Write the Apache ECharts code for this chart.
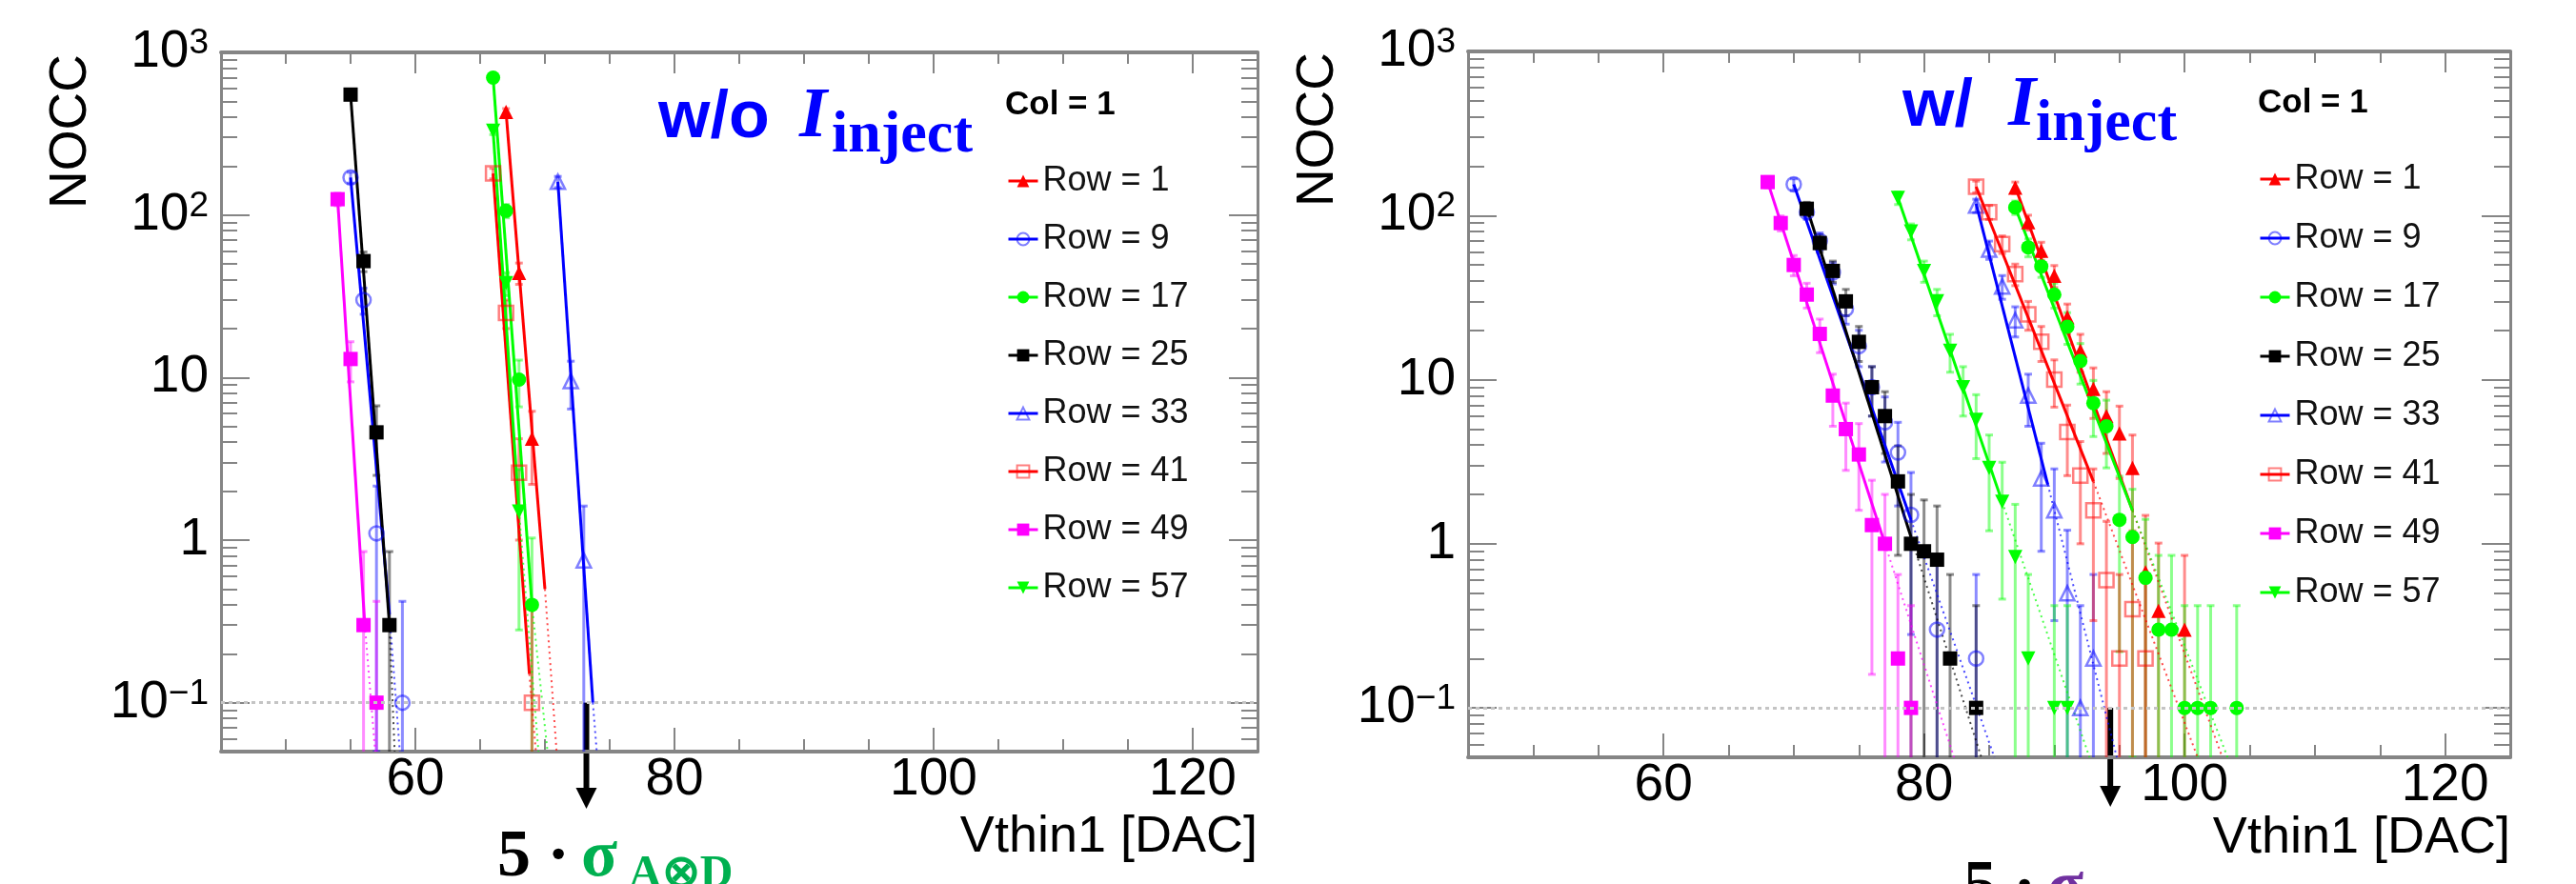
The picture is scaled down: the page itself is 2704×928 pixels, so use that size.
<!DOCTYPE html>
<html><head><meta charset="utf-8">
<script src="https://cdn.jsdelivr.net/npm/echarts@6/dist/echarts.min.js"></script>
<style>html,body{margin:0;padding:0;background:#fff;} #c{width:2704px;height:928px;}</style>
</head><body><div id="c"></div>
<script>
// ---------------- data ----------------
const rowNames = ['Row = 1','Row = 9','Row = 17','Row = 25','Row = 33','Row = 41','Row = 49','Row = 57'];
const xTickLabels = [60, 80, 100, 120];
const yTickLabels = [0.1, 1, 10, 100, 1000];
const yMinorTicks = [0.06,0.07,0.08,0.09,0.2,0.3,0.4,0.5,0.6,0.7,0.8,0.9,2,3,4,5,6,7,8,9,20,30,40,50,60,70,80,90,200,300,400,500,600,700,800,900];
const threshold = 0.1;
const arrowX = [73.2, 94.3];

// Left panel (w/o I_inject): [Vthin1, NOCC, error]
const L_row1  = [[67,430,21],[68,44,6.6],[69,4.2,2.0]];
const L_row9  = [[55,170,13],[56,30,5.5],[57,1.1,1.05],[59,0.1,0.32]];
const L_row17 = [[66,700,26],[67,106,10],[68,9.7,3.1],[69,0.4,0.63]];
const L_row25 = [[55,550,23],[56,52,7.2],[57,4.6,2.1],[58,0.3,0.55]];
const L_row33 = [[71,160,12.6],[72,9.5,3.1],[73,0.75,0.87]];
const L_row41 = [[66,180,13.4],[67,25,5],[68,2.6,1.6],[69,0.1,0.32]];
const L_row49 = [[54,125,11],[55,13,3.6],[56,0.3,0.55],[57,0.1,0.32]];
const L_row57 = [[66,330,18],[67,38,6.2],[68,1.5,1.22]];
// Left panel fits: [start], [end of solid], [end of dotted]
const L_fit1  = [[67,430],[70,0.5],[70.9,0.05]];
const L_fit9  = [[55,170],[58,0.35],[58.8,0.05]];
const L_fit17 = [[66,700],[69,0.4],[70.2,0.05]];
const L_fit25 = [[55,550],[58,0.3],[58.4,0.05]];
const L_fit33 = [[71,160],[73.7,0.1],[74,0.05]];
const L_fit41 = [[66,180],[68.8,0.15],[69.3,0.05]];
const L_fit49 = [[54,125],[56.1,0.3],[56.9,0.05]];
const L_fit57 = [[66,330],[68,1.5],[69.5,0.05]];

// Right panel (w/ I_inject)
const R_row1  = [[87,148,12],[88,91,9.5],[89,61,7.8],[90,43,6.6],[91,24,4.9],[92,15,3.9],[93,8.8,3],[94,6,2.45],[95,4.7,2.2],[96,2.9,1.7],[97,0.67,0.82],[98,0.39,0.62],[100,0.3,0.55]];
const R_row9  = [[70,155,12.4],[71,105,10.2],[72,70,8.4],[73,45,6.7],[74,27,5.2],[75,16,4],[76,9,3],[77,5.5,2.35],[78,3.6,1.9],[79,1.5,1.22],[81,0.3,0.55],[84,0.2,0.45]];
const R_row17 = [[87,112,10.6],[88,64,8],[89,49,7],[90,33,5.7],[91,21,4.6],[92,13,3.6],[93,7.2,2.7],[94,5.2,2.3],[95,1.4,1.18],[96,1.1,1.05],[97,0.62,0.79],[98,0.3,0.55],[99,0.3,0.55],[100,0.1,0.32],[101,0.1,0.32],[102,0.1,0.32],[104,0.1,0.32]];
const R_row25 = [[71,110,10.5],[72,68,8.2],[73,46,6.8],[74,30,5.5],[75,17,4.1],[76,9,3],[77,6,2.45],[78,2.4,1.55],[79,1,1],[80,0.9,0.95],[81,0.8,0.9],[82,0.2,0.45],[84,0.1,0.32]];
const R_row33 = [[84,115,10.7],[85,62,7.9],[86,37,6.1],[87,23,4.8],[88,8,2.8],[89,2.5,1.6],[90,1.6,1.26],[91,0.5,0.71],[92,0.1,0.32],[93,0.2,0.45]];
const R_row41 = [[84,150,12.2],[85,105,10.2],[86,67,8.2],[87,44,6.6],[88,25,5],[89,17,4.1],[90,10,3.2],[91,4.8,2.2],[92,2.6,1.6],[93,1.6,1.26],[94,0.6,0.77],[95,0.2,0.45],[96,0.4,0.63],[97,0.2,0.45]];
const R_row49 = [[68,160,12.6],[69,90,9.5],[70,50,7.1],[71,33,5.7],[72,19,4.4],[73,8,2.8],[74,5,2.2],[75,3.5,1.9],[76,1.3,1.14],[77,1,1],[78,0.2,0.45],[79,0.1,0.32]];
const R_row57 = [[78,128,11.3],[79,80,8.9],[80,46,6.8],[81,30,5.5],[82,15,3.9],[83,9,3],[84,5.7,2.4],[85,2.9,1.7],[86,1.8,1.34],[87,0.83,0.91],[88,0.2,0.45],[90,0.1,0.32],[91,0.1,0.32]];
const R_fit1  = [[87,150],[96,1.6],[102.9,0.05]];
const R_fit9  = [[70,155],[79,1.4],[85.4,0.05]];
const R_fit17 = [[87,112],[96,1.6],[103.3,0.05]];
const R_fit25 = [[71,112],[79,1.1],[84.4,0.05]];
const R_fit33 = [[84,118],[89.5,2.3],[94.8,0.05]];
const R_fit41 = [[84,150],[93,2.4],[101,0.05]];
const R_fit49 = [[68,160],[77,1.0],[82.3,0.05]];
const R_fit57 = [[78,128],[86,1.8],[92.7,0.05]];

// ---------------- styles ----------------
const X_MIN = 45, X_MAX = 125, Y_MIN = 0.05, Y_MAX = 1000;
const SANS = 'Liberation Sans', SERIF = 'Liberation Serif';
const AXC = '#858585';
const rowStyle = [
  {c:[255,0,0],   sym:'triangle', fill:true},
  {c:[0,0,255],   sym:'circle',   fill:false},
  {c:[0,255,0],   sym:'circle',   fill:true},
  {c:[0,0,0],     sym:'rect',     fill:true},
  {c:[0,0,255],   sym:'triangle', fill:false},
  {c:[255,0,0],   sym:'rect',     fill:false},
  {c:[255,0,255], sym:'rect',     fill:true},
  {c:[0,255,0],   sym:'triangle', fill:true, rot:180}
];
const rgba = (c, a) => 'rgba(' + c[0] + ',' + c[1] + ',' + c[2] + ',' + a + ')';

const panels = [
  {grid:{left:232, top:55, width:1088, height:734},
   rows:[L_row1,L_row9,L_row17,L_row25,L_row33,L_row41,L_row49,L_row57],
   fits:[L_fit1,L_fit9,L_fit17,L_fit25,L_fit33,L_fit41,L_fit49,L_fit57]},
  {grid:{left:1541, top:54, width:1094, height:741},
   rows:[R_row1,R_row9,R_row17,R_row25,R_row33,R_row41,R_row49,R_row57],
   fits:[R_fit1,R_fit9,R_fit17,R_fit25,R_fit33,R_fit41,R_fit49,R_fit57]}
];

const grids = [], xAxes = [], yAxes = [], series = [];
const labelFont = {fontFamily: SANS, fontSize: 55, color: '#000'};

panels.forEach((P, gi) => {
  grids.push(Object.assign({containLabel:false}, P.grid));
  const xb = {type:'value', gridIndex:gi, min:X_MIN, max:X_MAX, splitLine:{show:false}, axisLine:{show:false}, axisLabel:{show:false}, axisTick:{show:false}};
  // bottom main
  xAxes.push(Object.assign({}, xb, {position:'bottom', interval:5,
    axisLine:{show:true, onZero:false, lineStyle:{color:AXC, width:4}},
    axisTick:{show:true, inside:true, length:13, lineStyle:{color:AXC, width:2}},
    axisLabel:{show:true, customValues:xTickLabels, margin:2, ...labelFont}}));
  // bottom long ticks
  xAxes.push(Object.assign({}, xb, {position:'bottom',
    axisTick:{show:true, inside:true, length:25, customValues:xTickLabels, lineStyle:{color:AXC, width:2}}}));
  // top
  xAxes.push(Object.assign({}, xb, {position:'top', interval:5,
    axisLine:{show:true, onZero:false, lineStyle:{color:AXC, width:4}},
    axisTick:{show:true, inside:true, length:12, lineStyle:{color:AXC, width:2}}}));
  xAxes.push(Object.assign({}, xb, {position:'top',
    axisTick:{show:true, inside:true, length:22, customValues:xTickLabels, lineStyle:{color:AXC, width:2}}}));

  const yb = {type:'log', logBase:10, gridIndex:gi, min:Y_MIN, max:Y_MAX, splitLine:{show:false}, axisLine:{show:false}, axisLabel:{show:false}, axisTick:{show:false}};
  yAxes.push(Object.assign({}, yb, {position:'left',
    axisLine:{show:true, onZero:false, lineStyle:{color:AXC, width:3}},
    axisTick:{show:true, inside:true, length:30, customValues:yTickLabels, lineStyle:{color:AXC, width:2}},
    axisLabel:{show:true, customValues:yTickLabels, margin:13,
      formatter: v => {
        const ex = Math.round(Math.log10(v));
        if (ex === 0) return '{p|1}';
        if (ex === 1) return '{p|10}';
        return '{b|10}{s|' + (ex < 0 ? '\u2212' + (-ex) : String(ex)) + '}';
      },
      rich:{
        p:{fontFamily:SANS, fontSize:55, lineHeight:55, color:'#000'},
        b:{fontFamily:SANS, fontSize:55, lineHeight:55, color:'#000', verticalAlign:'bottom', padding:[10,0,0,0]},
        s:{fontFamily:SANS, fontSize:37, lineHeight:37, color:'#000', verticalAlign:'top'}
      }}}));
  yAxes.push(Object.assign({}, yb, {position:'left',
    axisTick:{show:true, inside:true, length:17, customValues:yMinorTicks, lineStyle:{color:AXC, width:2}}}));
  yAxes.push(Object.assign({}, yb, {position:'right',
    axisLine:{show:true, onZero:false, lineStyle:{color:AXC, width:3}},
    axisTick:{show:true, inside:true, length:30, customValues:yTickLabels, lineStyle:{color:AXC, width:2}}}));
  yAxes.push(Object.assign({}, yb, {position:'right',
    axisTick:{show:true, inside:true, length:17, customValues:yMinorTicks, lineStyle:{color:AXC, width:2}}}));

  const xi = gi * 4, yi = gi * 4;
  // threshold line at 0.1
  series.push({type:'line', xAxisIndex:xi, yAxisIndex:yi, data:[], silent:true,
    markLine:{silent:true, symbol:'none', label:{show:false}, animation:false,
      lineStyle:{color:'#c4c4c4', type:[4,4], width:3}, data:[{yAxis:threshold}]}});

  P.rows.forEach((pts, ri) => {
    const st = rowStyle[ri];
    const errCol = rgba(st.c, st.c[0]+st.c[1]+st.c[2] === 0 ? 0.45 : 0.45);
    series.push({type:'custom', xAxisIndex:xi, yAxisIndex:yi, data:pts, silent:true, z:2, clip:true,
      encode:{x:0, y:1},
      renderItem:(params, api) => {
        const x = api.value(0), y = api.value(1), e = api.value(2);
        const lo = Math.max(y - e, Y_MIN), hi = y + e;
        const p1 = api.coord([x, hi]), p2 = api.coord([x, lo]);
        const st2 = {stroke:errCol, lineWidth:3};
        const ch = [
          {type:'line', shape:{x1:p1[0], y1:p1[1], x2:p2[0], y2:p2[1]}, style:st2},
          {type:'line', shape:{x1:p1[0]-4, y1:p1[1], x2:p1[0]+4, y2:p1[1]}, style:st2}
        ];
        if (lo > Y_MIN) ch.push({type:'line', shape:{x1:p2[0]-4, y1:p2[1], x2:p2[0]+4, y2:p2[1]}, style:st2});
        return {type:'group', children:ch};
      }});
    const fit = P.fits[ri];
    series.push({type:'line', xAxisIndex:xi, yAxisIndex:yi, data:fit.slice(1,3), symbol:'none', silent:true, z:3,
      lineStyle:{color:rgba(st.c,0.7), width:2, type:[2,4]}});
    series.push({type:'line', xAxisIndex:xi, yAxisIndex:yi, data:fit.slice(0,2), symbol:'none', silent:true, z:3,
      lineStyle:{color:rgba(st.c,1), width:3}});
    series.push({type:'line', name:rowNames[ri], xAxisIndex:xi, yAxisIndex:yi,
      data:pts.map(p => [p[0], p[1]]), z:4, silent:true,
      symbol:st.sym, symbolSize:15, symbolRotate:st.rot || 0, showSymbol:true,
      lineStyle:{width:0, color:rgba(st.c,1)},
      itemStyle: st.fill ? {color:rgba(st.c,1), borderWidth:0} : {color:'rgba(0,0,0,0)', borderColor:rgba(st.c,0.5), borderWidth:2.5}
    });
  });
});

const legendBase = {orient:'vertical', itemWidth:31, itemHeight:16, data:rowNames, selectedMode:false,
  lineStyle:{width:3}, textStyle:{fontFamily:SANS, fontSize:36, lineHeight:40, color:'#111'}};

const option = {
  animation:false,
  backgroundColor:'#fff',
  grid:grids, xAxis:xAxes, yAxis:yAxes, series:series,
  legend:[
    Object.assign({}, legendBase, {left:1052, top:165, itemGap:21}),
    Object.assign({}, legendBase, {left:2366, top:163, itemGap:22})
  ]
};

const chart = echarts.init(document.getElementById('c'));
chart.setOption(option);

// ---------------- annotations ----------------
function txt(text, x, y, size, opt) {
  return {type:'text', x:x, y:y, rotation:(opt && opt.rotation) || 0, silent:true,
    style:Object.assign({text:text, fontSize:size, fontFamily:SANS, fill:'#000', align:'left', verticalAlign:'middle'}, opt && opt.style)};
}
const blue = '#0000ff';
const g = [
  txt('NOCC', 75, 57, 55, {rotation:Math.PI/2, style:{align:'right'}}),
  txt('NOCC', 1384, 55, 55, {rotation:Math.PI/2, style:{align:'right'}}),
  txt('Vthin1 [DAC]', 1320, 879, 54, {style:{align:'right'}}),
  txt('Vthin1 [DAC]', 2635, 880, 54, {style:{align:'right'}}),
  txt('Col = 1', 1055, 110, 35, {style:{fontWeight:'bold'}}),
  txt('Col = 1', 2370, 108, 35, {style:{fontWeight:'bold'}}),
  txt('w/o', 691, 125, 70, {style:{fontWeight:'bold', fill:blue}}),
  txt('I', 839, 124, 75, {style:{fontWeight:'bold', fontStyle:'italic', fontFamily:SERIF, fill:blue}}),
  txt('inject', 873, 143, 62, {style:{fontWeight:'bold', fontFamily:SERIF, fill:blue}}),
  txt('w/', 1997, 113, 70, {style:{fontWeight:'bold', fill:blue}}),
  txt('I', 2108, 112, 75, {style:{fontWeight:'bold', fontStyle:'italic', fontFamily:SERIF, fill:blue}}),
  txt('inject', 2137, 131, 62, {style:{fontWeight:'bold', fontFamily:SERIF, fill:blue}}),
  txt('5 \u00b7 ', 522, 901, 70, {style:{fontWeight:'bold', fontFamily:SERIF}}),
  txt('\u03c3', 610, 901, 70, {style:{fontWeight:'bold', fontFamily:SERIF, fill:'#00b050'}}),
  txt('A\u2297D', 660, 919, 48, {style:{fontWeight:'bold', fontFamily:SERIF, fill:'#00b050'}}),
  txt('5 \u00b7 ', 2061, 933, 70, {style:{fontWeight:'bold', fontFamily:SERIF}}),
  txt('\u03c3', 2149, 933, 70, {style:{fontWeight:'bold', fontFamily:SERIF, fill:'#7030a0'}})
];
const arrowTip = [849, 847];
arrowX.forEach((ax, i) => {
  const p = chart.convertToPixel({xAxisIndex:i*4, yAxisIndex:i*4}, [ax, threshold]);
  const tip = arrowTip[i];
  g.push({type:'rect', silent:true, shape:{x:p[0]-3, y:p[1], width:6, height:tip - p[1] - 20}, style:{fill:'#000'}});
  g.push({type:'polygon', silent:true, shape:{points:[[p[0]-11, tip-22],[p[0]+11, tip-22],[p[0], tip]]}, style:{fill:'#000'}});
});
chart.setOption({graphic:g});
</script>
</body></html>
